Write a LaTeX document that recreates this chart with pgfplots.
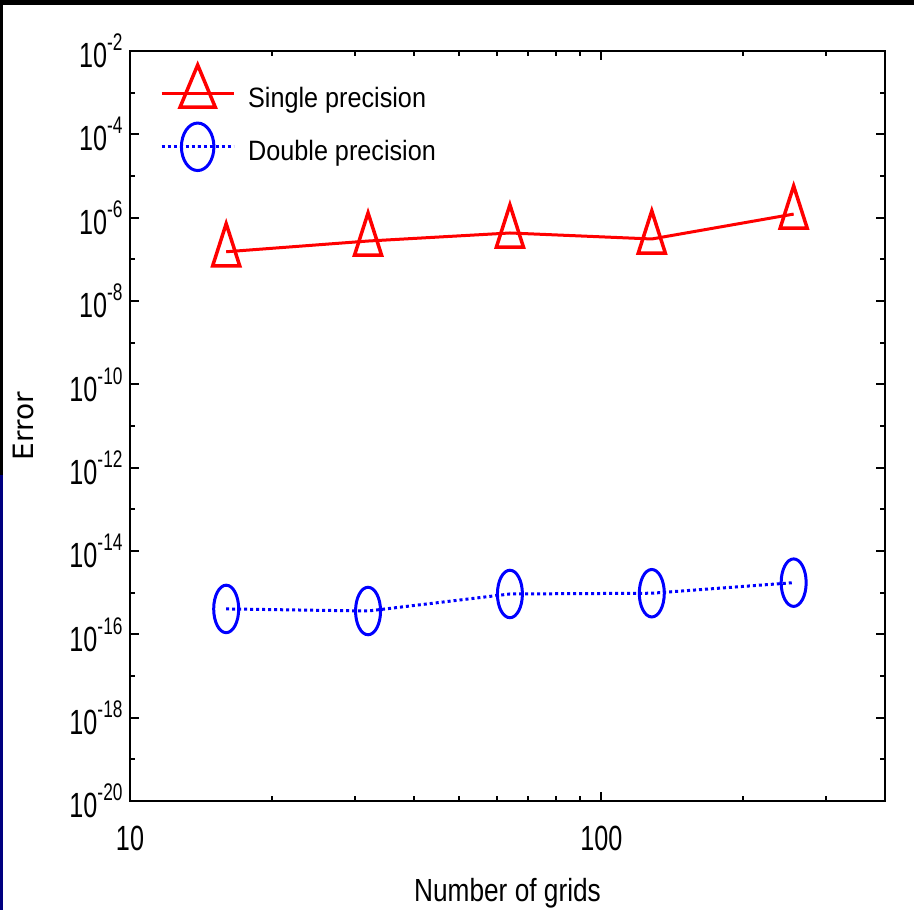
\documentclass[border=0pt]{standalone}
\usepackage{fontspec}
\setmainfont{Liberation Sans}
\newfontfamily\tickfont{Liberation Sans}[FakeStretch=0.72]
\newfontfamily\legfont{Liberation Sans}[FakeStretch=0.9]
\newfontfamily\labfont{Liberation Sans}[FakeStretch=0.82]
\newfontfamily\errfont{DejaVu Sans}
\usepackage{pgfplots}
\pgfplotsset{compat=1.18}
\definecolor{navy}{RGB}{0,0,128}
\newcommand{\ep}[1]{10\raisebox{17pt}{\fontsize{24}{24}\selectfont #1}}

\begin{document}
\begin{tikzpicture}[x=1pt,y=1pt]
  % frame of the screenshot
  \fill[white] (0,0) rectangle (914,910);
  \fill[black] (0,905) rectangle (914,910);
  \fill[black] (0,435) rectangle (3,905);
  \fill[navy]  (0,0) rectangle (3,435);

  \begin{axis}[
    at={(130pt,109pt)}, anchor=south west,
    scale only axis, width=755pt, height=750pt,
    xmode=log, ymode=log,
    xmin=10, xmax=400, ymin=1e-20, ymax=1e-2,
    xtick={10,100},
    xticklabels={10,100},
    minor xtick={20,30,40,50,60,70,80,90,200,300,400},
    ytick={1e-20,1e-18,1e-16,1e-14,1e-12,1e-10,1e-8,1e-6,1e-4,1e-2},
    yticklabels={\ep{-20},\ep{-18},\ep{-16},\ep{-14},\ep{-12},\ep{-10},\ep{-8},\ep{-6},\ep{-4},\ep{-2}},
    minor ytick={1e-19,1e-17,1e-15,1e-13,1e-11,1e-9,1e-7,1e-5,1e-3},
    major tick length=9pt, minor tick length=5pt,
    axis line style={line width=2.8pt},
    tick style={line width=2pt, black},
    tick label style={font=\tickfont\fontsize{35}{35}\selectfont},
    xticklabel style={yshift=-22pt},
    yticklabel style={xshift=-4pt},
    xlabel={Number of grids},
    xlabel style={font=\labfont\fontsize{32}{32}\selectfont,
      at={(axis description cs:0.5,-0.134)}, anchor=base},
    ylabel={Error},
    ylabel style={font=\errfont\fontsize{28}{28}\selectfont,
      at={(axis description cs:-0.1417,0.5)}, anchor=center},
    legend cell align=left,
    legend image code/.code={%
      \draw[mark repeat=2,mark phase=2,#1,
        every mark/.append style={xscale=1.3}]
        plot coordinates {(0pt,7pt) (36pt,7pt) (72pt,7pt)};},
    legend style={draw=none, fill=none, inner sep=0pt,
      at={(axis description cs:0.0397,0.911)}, anchor=west,
      font=\legfont\fontsize{28}{28}\selectfont,
      row sep=10pt, column sep=13pt,
      nodes={inner sep=0pt, text height=20pt, text depth=6pt}},
  ]
    \addplot[red, line width=3pt, mark=triangle, mark size=15.6pt,
      mark options={solid, line width=3.5pt, yscale=1.8}]
      coordinates {(16,1.52e-7) (32,2.75e-7) (64,4.29e-7) (128,3.08e-7) (256,1.22e-6)};
    \addlegendentry{Single precision}

    \addplot[blue, line width=3pt, dash pattern=on 3pt off 3pt,
      mark=o, mark size=12.5pt,
      mark options={solid, line width=3pt, yscale=1.9}]
      coordinates {(16,4.07e-16) (32,3.63e-16) (64,9.3e-16) (128,9.7e-16) (256,1.74e-15)};
    \addlegendentry{Double precision}
  \end{axis}
\end{tikzpicture}
\end{document}
